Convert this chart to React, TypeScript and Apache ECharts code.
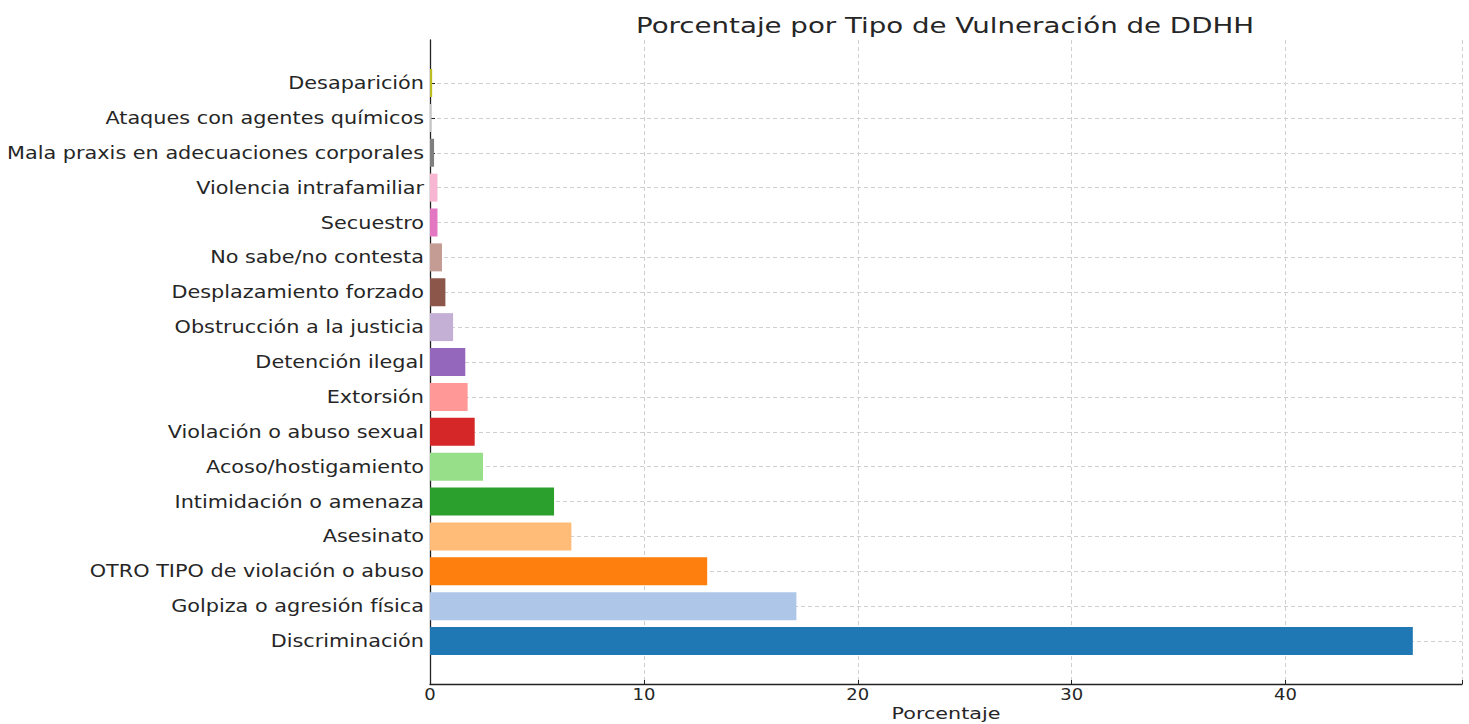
import React, { useEffect, useRef } from "react";
import * as echarts from "echarts";

const categories = [
  "Discriminación",
  "Golpiza o agresión física",
  "OTRO TIPO de violación o abuso",
  "Asesinato",
  "Intimidación o amenaza",
  "Acoso/hostigamiento",
  "Violación o abuso sexual",
  "Extorsión",
  "Detención ilegal",
  "Obstrucción a la justicia",
  "Desplazamiento forzado",
  "No sabe/no contesta",
  "Secuestro",
  "Violencia intrafamiliar",
  "Mala praxis en adecuaciones corporales",
  "Ataques con agentes químicos",
  "Desaparición",
];

const values = [45.95, 17.13, 12.96, 6.61, 5.8, 2.48, 2.09, 1.76, 1.65, 1.08, 0.72, 0.56, 0.35, 0.35, 0.19, 0.07, 0.1];

const colors = [
  "#1f77b4", "#aec7e8", "#ff7f0e", "#ffbb78", "#2ca02c", "#98df8a", "#d62728", "#ff9896",
  "#9467bd", "#c5b0d5", "#8c564b", "#c49c94", "#e377c2", "#f7b6d2", "#7f7f7f", "#c7c7c7", "#bcbd22",
];

const xTicks = [0, 10, 20, 30, 40];

const titleText = "Porcentaje por Tipo de Vulneración de DDHH";
const xAxisName = "Porcentaje";

const FONT = "DejaVu Sans";
const TXT = "#262626";

export default function App() {
  const ref = useRef<HTMLDivElement>(null);
  useEffect(() => {
    if (!ref.current) return;
    const chart = echarts.init(ref.current, null, { renderer: "svg" });
    const xMax = 48.25;
    const gridLine = { show: true, lineStyle: { color: "#d0d0d0", type: [4, 3], width: 1 } };
    chart.setOption({
      animation: false,
      backgroundColor: "#ffffff",
      grid: [
        { left: 430, right: 7, top: 83, bottom: 83 },
        { left: 430, right: 7, top: 40, bottom: 40 },
      ],
      xAxis: [
        { gridIndex: 0, type: "value", min: 0, max: xMax, show: false, splitLine: { show: false } },
        {
          gridIndex: 1,
          type: "value",
          min: 0,
          max: xMax,
          interval: 10,
          axisLine: { show: true, lineStyle: { color: "#222", width: 1.3 } },
          axisTick: { show: true, inside: true, length: 4, lineStyle: { color: "#222" } },
          axisLabel: { show: false },
          splitLine: gridLine,
        },
      ],
      yAxis: [
        {
          gridIndex: 0,
          type: "category",
          data: categories,
          boundaryGap: false,
          axisLine: { show: false },
          axisTick: { show: true, inside: true, length: 5, alignWithLabel: true, lineStyle: { color: "#222" } },
          axisLabel: { show: false },
          splitLine: gridLine,
        },
        {
          gridIndex: 1,
          type: "value",
          min: 0,
          max: 1,
          axisLine: { show: true, lineStyle: { color: "#222", width: 1.3 } },
          axisTick: { show: false },
          axisLabel: { show: false },
          splitLine: { show: false },
        },
      ],
      series: [
        {
          type: "bar",
          xAxisIndex: 0,
          yAxisIndex: 0,
          barWidth: 28,
          data: values.map((v, i) => ({ value: v, itemStyle: { color: colors[i] } })),
          z: 1,
        },
      ],
    });

    const graphics: any[] = [];
    const gridLeft = chart.convertToPixel({ xAxisIndex: 1 }, 0) as number;
    const gridRight = chart.convertToPixel({ xAxisIndex: 1 }, xMax) as number;
    const mid = (gridLeft + gridRight) / 2;
    categories.forEach((c) => {
      const y = chart.convertToPixel({ yAxisIndex: 0 }, c) as number;
      graphics.push({
        type: "text",
        x: gridLeft - 6,
        y,
        scaleX: 1.155,
        style: { text: c, align: "right", verticalAlign: "middle", fontFamily: FONT, fontSize: 18, fill: TXT },
      });
    });
    xTicks.forEach((t) => {
      const x = chart.convertToPixel({ xAxisIndex: 1 }, t) as number;
      graphics.push({
        type: "text",
        x,
        y: 695,
        scaleX: 1.2,
        style: { text: String(t), align: "center", verticalAlign: "middle", fontFamily: FONT, fontSize: 15, fill: TXT },
      });
    });
    graphics.push({
      type: "text",
      x: mid,
      y: 714,
      scaleX: 1.38,
      style: { text: xAxisName, align: "center", verticalAlign: "middle", fontFamily: FONT, fontSize: 15, fill: TXT },
    });
    graphics.push({
      type: "text",
      x: 945,
      y: 26,
      scaleX: 1.317,
      style: { text: titleText, align: "center", verticalAlign: "middle", fontFamily: FONT, fontSize: 21, fill: TXT },
    });
    chart.setOption({ graphic: graphics });
    return () => chart.dispose();
  }, []);
  return <div ref={ref} style={{ position: "fixed", left: 0, top: 0, width: 1469, height: 724 }} />;
}
